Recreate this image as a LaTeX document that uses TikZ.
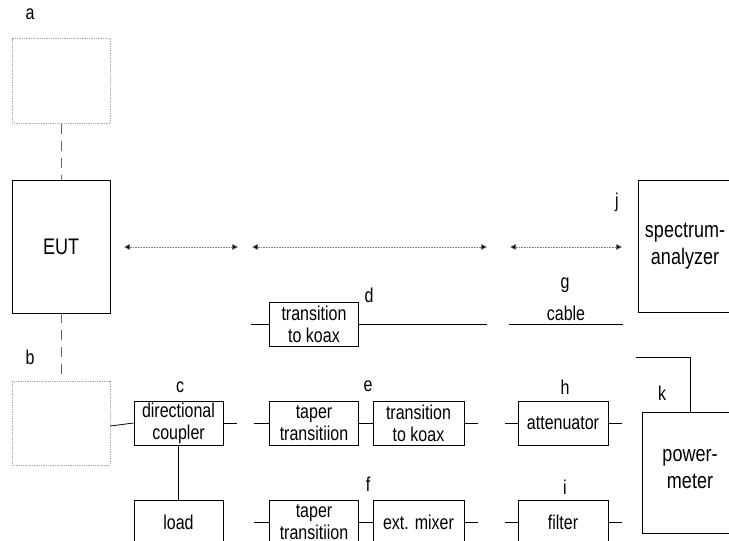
\documentclass[tikz,border=0pt]{standalone}
\usepackage{fontspec}
\setmainfont{Liberation Sans}[FakeStretch=0.8]
\usepackage{tikz}
\usetikzlibrary{arrows.meta, positioning}
\newcommand{\boxfont}{\fontsize{20}{22}\selectfont}
\newcommand{\bigfont}{\fontsize{22.5}{27}\selectfont}

\begin{document}
\begin{tikzpicture}[x=1pt, y=-1pt,
    blk/.style={draw, line width=0.8pt, minimum width=89pt, minimum height=44pt,
      inner sep=0pt, align=center, font=\boxfont},
    ghost/.style={draw=gray!70, densely dotted, line width=0.8pt, minimum width=98pt,
      minimum height=85pt, inner sep=0pt},
    lbl/.style={font=\boxfont, inner sep=0pt},
    wire/.style={line width=0.8pt},
    span/.style={densely dotted, gray, line width=0.6pt,
      {Triangle[length=6pt,width=6pt,fill=black]}-{Triangle[length=6pt,width=6pt,fill=black]}}]
  \useasboundingbox (0,0) rectangle (729,541);
  \clip (0,0) rectangle (729,541);

  % EUT with the optional units above and below
  \node[ghost] (ua) at (61,81) {};
  \node[blk, minimum width=98pt, minimum height=133pt, font=\bigfont] (eut) at (61,246.5) {EUT};
  \node[ghost, minimum height=84pt] (ub) at (61,423) {};
  \node[lbl] at (30,14) {a};
  \node[lbl] at (30,357) {b};
  \draw[wire, gray!80!black, dash pattern=on 10pt off 7pt] (ua.south) -- (eut.north);
  \draw[wire, gray!80!black, dash pattern=on 10pt off 7pt] (eut.south) -- (ub.north);

  % Distance arrows
  \coordinate (s1) at (124,247);
  \coordinate (e1) at (238,247);
  \coordinate (s2) at (252,247);
  \coordinate (e2) at (487,247);
  \coordinate (s3) at (510,247);
  \coordinate (e3) at (622,247);
  \draw[span] (s1) -- (e1);
  \draw[span] (s2) -- (e2);
  \draw[span] (s3) -- (e3);

  % Coupler and load
  \node[blk] (cpl) at (178.5,423) {directional\\coupler};
  \node[blk] (load) at (178.5,522) {load};
  \node[lbl] at (180,387) {c};
  \draw[wire] ([yshift=-3pt]ub.east) -- (cpl.west);
  \draw[wire] (cpl.east) -- +(14,0);
  \draw[wire] (cpl.south) -- (load.north);

  % Row d
  \node[blk] (kx1) at (314,324) {transition\\to koax};
  \node[lbl] at (369,295) {d};
  \coordinate (d1) at (487,324);
  \draw[wire] (kx1.west) -- +(-18,0);
  \draw[wire] (kx1.east) -- (d1);

  % Row e
  \node[blk] (tp1) at (314,423) {taper\\transitiion};
  \node[blk, minimum width=91pt] (kx2) at (418.5,423) {transition\\to koax};
  \node[lbl] at (368,386) {e};
  \draw[wire] (tp1.west) -- +(-15,0);
  \draw[wire] (tp1.east) -- (kx2.west);
  \draw[wire] (kx2.east) -- +(14,0);

  % Row f
  \node[blk] (tp2) at (314,522) {taper\\transitiion};
  \node[blk, minimum width=91pt] (mix) at (418.5,522) {ext. mixer};
  \node[lbl] at (368,484) {f};
  \draw[wire] (tp2.west) -- +(-15,0);
  \draw[wire] (tp2.east) -- (mix.west);
  \draw[wire] (mix.east) -- +(14,0);

  % Cable
  \coordinate (g1) at (509,324);
  \coordinate (g2) at (623,324);
  \draw[wire] (g1) -- (g2) node[midway, lbl, above=3pt] (cbl) {cable};
  \node[lbl] at (565,285) {g};

  % Attenuator and filter
  \node[blk, minimum width=90pt] (att) at (563,423) {attenuator};
  \node[blk, minimum width=90pt] (flt) at (563,522) {filter};
  \node[lbl] at (565,387) {h};
  \node[lbl] at (565,487) {i};
  \draw[wire] (att.west) -- +(-13,0);
  \draw[wire] (att.east) -- +(14,0);
  \draw[wire] (flt.west) -- +(-13,0);
  \draw[wire] (flt.east) -- +(14,0);

  % Instruments
  \node[blk, minimum width=94pt, minimum height=132pt, font=\bigfont] (spec) at (685,246) {spectrum-\\analyzer};
  \node[lbl] at (617,202) {j};
  \node[blk, minimum width=96pt, minimum height=121pt, font=\bigfont, text height=33pt] (pm) at (690,472.5) {power-\\meter};
  \node[lbl] at (662,393) {k};
  \coordinate (p1) at (636,357);
  \draw[wire] (p1) -| (pm.north);
\end{tikzpicture}
\end{document}
